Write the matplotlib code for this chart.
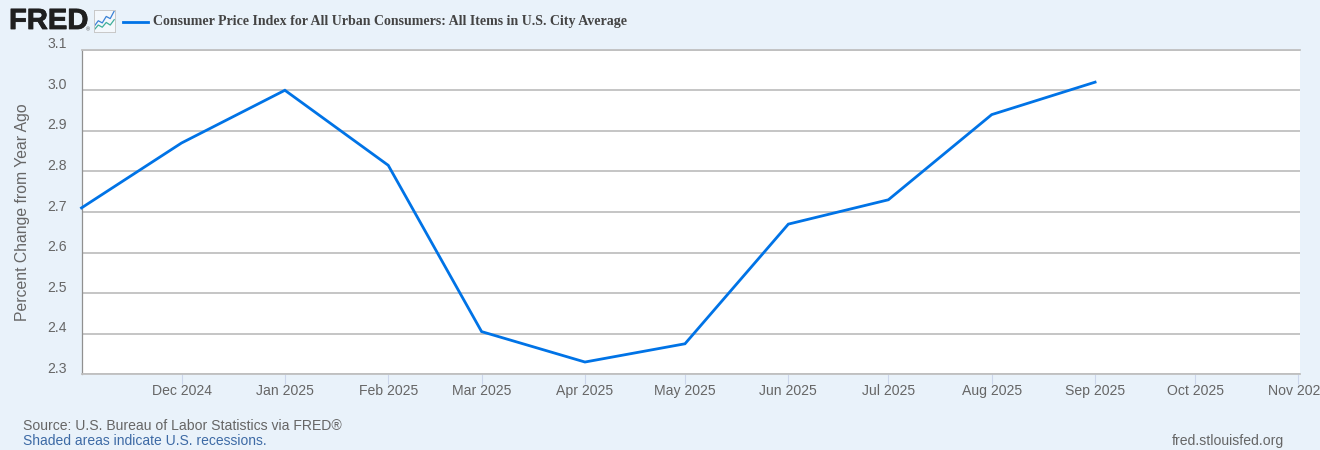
import numpy as np
import pandas as pd
import matplotlib
matplotlib.use("Agg")
import matplotlib.pyplot as plt
import matplotlib.dates as mdates
import matplotlib.patheffects as pe
from matplotlib.lines import Line2D
from matplotlib.transforms import ScaledTranslation

dates = ["2024-11-01", "2024-12-01", "2025-01-01", "2025-02-01", "2025-03-01", "2025-04-01",
         "2025-05-01", "2025-06-01", "2025-07-01", "2025-08-01", "2025-09-01"]
cpi_change = [2.71, 2.87, 3.00, 2.815, 2.405, 2.33, 2.375, 2.67, 2.73, 2.94, 3.02]
y_ticks = [2.3, 2.4, 2.5, 2.6, 2.7, 2.8, 2.9, 3.0, 3.1]
x_ticks = ["2024-12-01", "2025-01-01", "2025-02-01", "2025-03-01", "2025-04-01", "2025-05-01",
           "2025-06-01", "2025-07-01", "2025-08-01", "2025-09-01", "2025-10-01", "2025-11-01"]
icon_blue = [0.25, 0.5, 0.4, 0.7, 0.6, 0.95]
icon_green = [0.08, 0.3, 0.2, 0.42, 0.3, 0.55]

title = "Consumer Price Index for All Urban Consumers: All Items in U.S. City Average"
W, H = 1320, 450
BG = "#e9f2fa"
GRID = "#c0c0c0"
LINE = "#0073e6"
TEXT = "#666666"


def fx(px):
    return px / W


def fy(px):
    return 1 - px / H


plt.rcParams["font.family"] = ["Liberation Sans", "DejaVu Sans"]

fig = plt.figure(figsize=(W / 100, H / 100), dpi=100, facecolor=BG)
ax = fig.add_axes([fx(81.5), fy(374.2), fx(1300 - 81.5), (374.2 - 49.7) / H])
ax.set_facecolor("white")

x = pd.to_datetime(dates)
ax.plot(x, cpi_change, color=LINE, lw=2.0, solid_joinstyle="miter", clip_on=False, zorder=3)

ax.set_xlim(pd.Timestamp("2024-11-01"), pd.Timestamp("2025-11-01 11:00"))
ax.set_ylim(2.3, 3.1)

ax.set_yticks(y_ticks)
ax.set_yticklabels([f"{v:.1f}" for v in y_ticks], fontsize=10.1, color=TEXT)
ax.tick_params(axis="y", length=0, pad=10.4)
shift = ScaledTranslation(0, 5 / 72, fig.dpi_scale_trans)
for lab in ax.get_yticklabels():
    lab.set_transform(lab.get_transform() + shift)
ax.grid(axis="y", color=GRID, lw=1.3, zorder=1)
ax.set_axisbelow(True)

ax.set_xticks(pd.to_datetime(x_ticks))
ax.xaxis.set_major_formatter(mdates.DateFormatter("%b %Y"))
ax.tick_params(axis="x", length=7, width=0.8, color="#ccd6eb", labelcolor=TEXT, labelsize=10.1, pad=0)

ax.spines["right"].set_visible(False)
ax.spines["top"].set_color(GRID)
ax.spines["top"].set_linewidth(1.3)
ax.spines["bottom"].set_color(GRID)
ax.spines["bottom"].set_linewidth(1.3)
ax.spines["left"].set_color("#909090")
ax.spines["left"].set_linewidth(0.9)

fig.text(fx(23), fy(212.5), "Percent Change from Year Ago", rotation=90, ha="center", va="center",
         fontsize=11.35, color=TEXT)

# header: logo, icon and legend
logo = fig.text(fx(9), fy(21), "FRED", fontsize=21, fontweight="bold", color="#1f1f1f", ha="left", va="center")
logo.set_path_effects([pe.withStroke(linewidth=0.6, foreground="#1f1f1f")])
fig.text(fx(86), fy(30), "\u00ae", fontsize=4, color="#555555", ha="left", va="center")

icon = fig.add_axes([fx(93.5), fy(31.5), fx(21.5), 21.5 / H])
icon.set_facecolor("#f4f8fc")
icon.set_xticks([])
icon.set_yticks([])
for s in icon.spines.values():
    s.set_color("#c8c8c8")
    s.set_linewidth(0.7)
icon.set_xlim(-0.2, 5.2)
icon.set_ylim(0, 1)
icon.plot(range(6), icon_blue, color="#3b82d6", lw=0.9)
icon.plot(range(6), icon_green, color="#3fae9a", lw=0.9)

fig.add_artist(Line2D([fx(123), fx(148)], [fy(21.5), fy(21.5)], color=LINE, lw=2.0,
                      transform=fig.transFigure))
fig.text(fx(153), fy(21.5), title, family="Liberation Serif", fontweight="bold", fontsize=10.04, color="#444444",
         ha="left", va="center")

# footer
fig.text(fx(23), fy(425.5), "Source: U.S. Bureau of Labor Statistics via FRED\u00ae", fontsize=10.1, color=TEXT,
         ha="left", va="center")
fig.text(fx(23), fy(441), "Shaded areas indicate U.S. recessions.", fontsize=10.0, color="#3d6aa5",
         ha="left", va="center")
fig.text(fx(1284), fy(440.5), "fred.stlouisfed.org", fontsize=10.1, color=TEXT, ha="right", va="center")

fig.savefig("out.png", dpi=100, facecolor=BG)
